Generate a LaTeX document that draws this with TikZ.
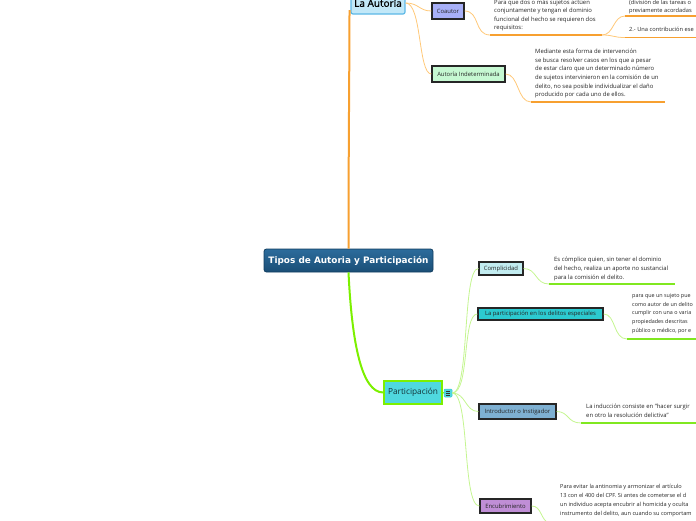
\documentclass[tikz,border=0pt]{standalone}
\usepackage{fontspec}
\setmainfont{Open Sans}
\newfontfamily\rootfont{DejaVu Sans}
\newfontfamily\semib[FakeBold=1]{Open Sans}
\definecolor{orMain}{HTML}{F7A030}
\definecolor{orThin}{HTML}{FFC878}
\definecolor{grMain}{HTML}{7CF000}
\definecolor{grThin}{HTML}{C4F590}
\definecolor{grLine}{HTML}{80E820}
\definecolor{txt}{HTML}{262626}
\definecolor{rootDraw}{HTML}{123E60}
\begin{document}
\begin{tikzpicture}[x=1pt,y=-1pt,
  box/.style={draw=black!85, line width=1.2pt, inner sep=0pt, minimum height=#1, font=\fontsize{5.9}{6}\selectfont, text=black!85},
  box/.default=14pt,
  desc/.style={anchor=north west, align=left, inner sep=0pt, font=\fontsize{5.9}{8.5}\selectfont, text=txt},
  thinor/.style={draw=orThin, line width=0.8pt},
  thickor/.style={draw=orMain, line width=1.6pt},
  thingr/.style={draw=grThin, line width=0.8pt},
  thickgr/.style={draw=grLine, line width=1.6pt}
]
\useasboundingbox (0,0) rectangle (696,520);
\clip (0,0) rectangle (696,520);

% Root
\node[rounded corners=2.5pt, draw=rootDraw, line width=0.8pt, top color={rgb,255:red,44;green,108;blue,156}, bottom color={rgb,255:red,26;green,78;blue,118},
  minimum width=169pt, minimum height=23pt, inner sep=0pt, text=white, font=\rootfont\fontsize{8.9}{10}\selectfont\bfseries]
  (root) at (348.5,260.5) {Tipos de Autoria y Participación};

% La Autoria
\node[rounded corners=2pt, draw={rgb,255:red,92;green,184;blue,230}, line width=1.2pt, fill={rgb,255:red,194;green,232;blue,248},
  minimum width=54pt, minimum height=22pt, inner sep=0pt, font=\semib\fontsize{10}{12}\selectfont] (aut) at (378,3) {La Autoría};

% Participacion
\node[draw=grMain, line width=1.5pt, fill={rgb,255:red,79;green,216;blue,223}, minimum width=58pt, minimum height=23pt, inner sep=0pt,
  text={rgb,255:red,20;green,50;blue,55}, font=\fontsize{8.3}{10}\selectfont] (par) at (413,392.5) {Participación};
\node[draw={rgb,255:red,60;green,200;blue,210}, line width=0.5pt, rounded corners=1pt, fill={rgb,255:red,79;green,216;blue,223},
  minimum width=8pt, minimum height=8pt, inner sep=0pt] (icon) at (448,393) {};
\draw[line width=0.6pt, black!80] (445.8,390.8) -- (450.2,390.8) (445.8,393) -- (450.2,393) (445.8,395.2) -- (450.2,395.2);

% Autoria children
\node[box=16pt, minimum width=32pt, fill={rgb,255:red,168;green,176;blue,248}] (coa) at (448,11) {Coautor};
\node[box=16pt, minimum width=73pt, fill={rgb,255:red,198;green,248;blue,210}] (ind) at (468.5,74) {Autoría Indeterminada};

% Participacion children
\node[box=13pt, minimum width=44pt, fill={rgb,255:red,194;green,236;blue,240}] (com) at (501,268.5) {Complicidad};
\node[box=12pt, minimum width=125pt, fill={rgb,255:red,44;green,202;blue,208}] (esp) at (540.5,314) {La participación en los delitos especiales};
\node[box=15pt, minimum width=77pt, fill={rgb,255:red,126;green,176;blue,210}] (ins) at (517.5,411.5) {Introductor o Instigador};
\node[box=14pt, minimum width=51pt, fill={rgb,255:red,192;green,142;blue,214}] (enc) at (505.5,506) {Encubrimiento};

% Descriptions
\node[desc] (tcoa) at (494,-0.3) {Para que dos o más sujetos actúen\\conjuntamente y tengan el dominio\\funcional del hecho se requieren dos\\requisitos:};
\node[desc, font=\fontsize{5.7}{7.6}\selectfont] (tdiv) at (629,0.4) {(división de las tareas o\\previamente acordadas};
\node[desc, font=\fontsize{5.7}{8}\selectfont] (tdos) at (629,27) {2.- Una contribución ese};
\node[desc, font=\fontsize{5.9}{8.6}\selectfont] (tind) at (535,49) {Mediante esta forma de intervención\\se busca resolver casos en los que a pesar\\de estar claro que un determinado número\\de sujetos intervinieron en la comisión de un\\delito, no sea posible individualizar el daño\\producido por cada uno de ellos.};
\node[desc, font=\fontsize{5.9}{9}\selectfont] (tcom) at (554,257) {Es cómplice quien, sin tener el dominio\\del hecho, realiza un aporte no sustancial\\para la comisión el delito.};
\node[desc, font=\fontsize{5.4}{8.6}\selectfont] (tesp) at (632,293.5) {para que un sujeto pue\\como autor de un delito\\cumplir con una o varia\\propiedades descritas\\público o médico, por e};
\node[desc, font=\fontsize{5.9}{9}\selectfont] (tins) at (586,404) {La inducción consiste en "hacer surgir\\en otro la resolución delictiva"};
\node[desc, font=\fontsize{5.6}{8.9}\selectfont] (tenc) at (560,484) {Para evitar la antinomia y armonizar el artículo\\13 con el 400 del CPF. Si antes de cometerse el d\\un individuo acepta encubrir al homicida y oculta\\instrumento del delito, aun cuando su comportam};

% Underline coordinates
\coordinate (ucoaA) at (490,35);
\coordinate (ucoaB) at (602,35);
\coordinate (udivA) at (625,16);
\coordinate (udivB) at (700,16);
\coordinate (udosA) at (625,37.5);
\coordinate (udosB) at (700,37.5);
\coordinate (uindA) at (531,102);
\coordinate (uindB) at (665,102);
\coordinate (ucomA) at (549,284);
\coordinate (ucomB) at (675,284);
\coordinate (uespA) at (627,339);
\coordinate (uespB) at (700,339);
\coordinate (uinsA) at (581,423);
\coordinate (uinsB) at (700,423);
\coordinate (uencA) at (550,524);

% Main connectors
\draw[draw=orMain, line width=2pt] (root.north) .. controls (348.5,150) and (349.5,60) .. (349.5,10);
\draw[draw=grMain, line width=2pt] (root.south) .. controls (352,345) and (362,392.5) .. (par.west);

% Autoria connectors
\draw[thinor] (aut.east) .. controls (419,3) and (419,11) .. (coa.west);
\draw[thinor] (aut.east) .. controls (422,3) and (418,74) .. (ind.west);
\draw[thinor] (coa.east) .. controls (480,11) and (474,35) .. (ucoaA);
\draw[thickor] (ucoaA) -- (ucoaB);
\draw[thinor] (ucoaB) .. controls (614,35) and (613,16) .. (udivA);
\draw[thickor] (udivA) -- (udivB);
\draw[thinor] (ucoaB) .. controls (614,35) and (613,37.5) .. (udosA);
\draw[thickor] (udosA) -- (udosB);
\draw[thinor] (ind.east) .. controls (519,74) and (517,102) .. (uindA);
\draw[thickor] (uindA) -- (uindB);

% Participacion connectors
\draw[draw=grMain, line width=1.2pt] (par.east) -- (icon.west);
\draw[thingr] (icon.east) .. controls (470,393) and (462,268.5) .. (com.west);
\draw[thingr] (icon.east) .. controls (470,393) and (462,314) .. (esp.west);
\draw[thingr] (icon.east) .. controls (466,393) and (465,411.5) .. (ins.west);
\draw[thingr] (icon.east) .. controls (470,393) and (462,506) .. (enc.west);

\draw[thingr] (com.east) .. controls (537,268.5) and (535,284) .. (ucomA);
\draw[thickgr] (ucomA) -- (ucomB);
\draw[thingr] (esp.east) .. controls (616,314) and (613,339) .. (uespA);
\draw[thickgr] (uespA) -- (uespB);
\draw[thingr] (ins.east) .. controls (569,411.5) and (567,423) .. (uinsA);
\draw[thickgr] (uinsA) -- (uinsB);
\draw[thingr] (enc.east) .. controls (542,506) and (540,520) .. (uencA);
\end{tikzpicture}
\end{document}
